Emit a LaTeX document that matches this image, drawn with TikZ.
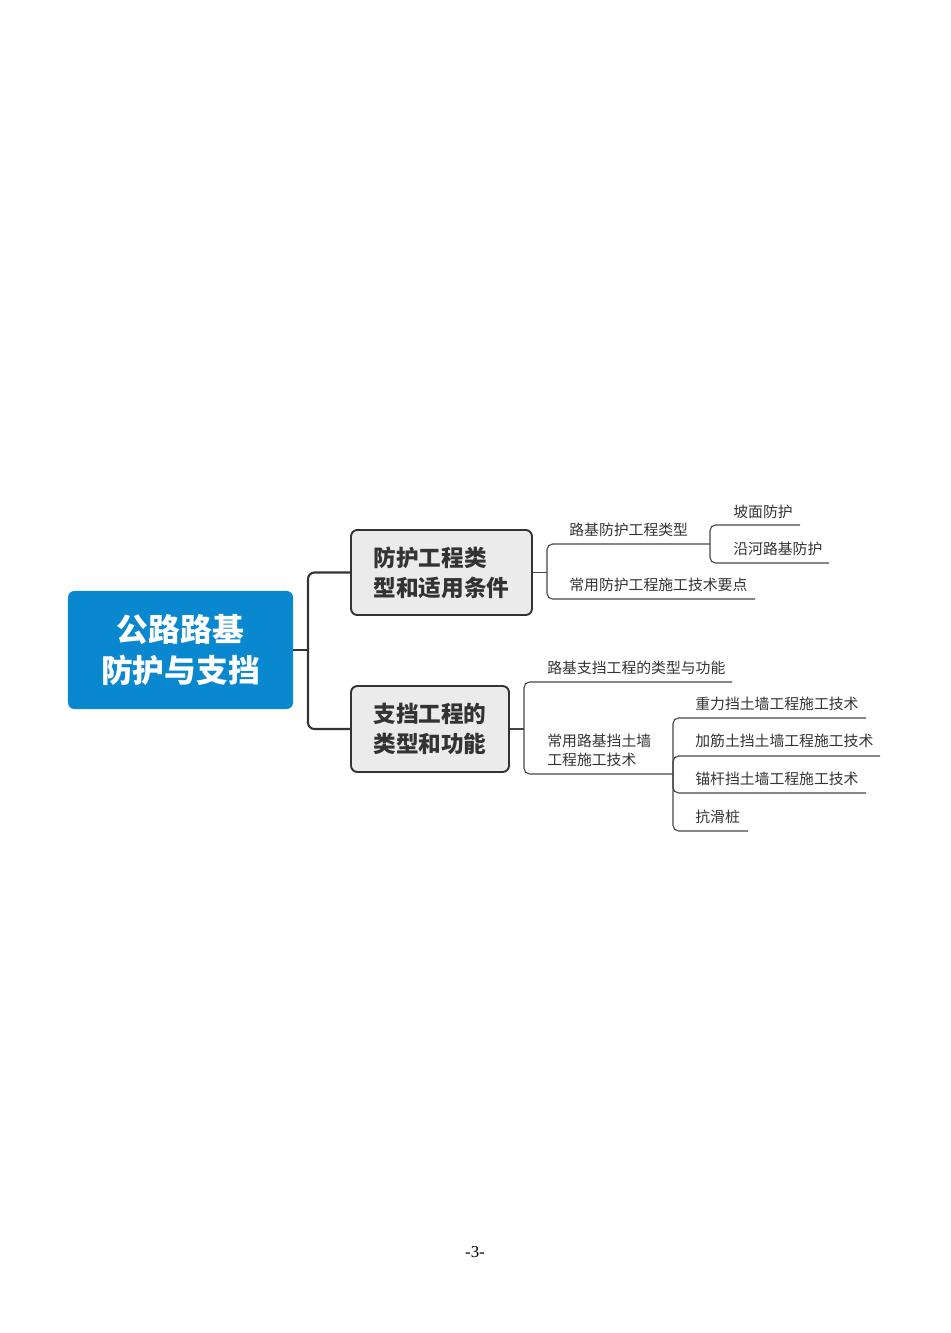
\documentclass[tikz,border=0pt]{standalone}
\usepackage{fontspec}
\setmainfont{Liberation Serif}
\newfontfamily\cjk{Noto Sans CJK SC}
\definecolor{rootblue}{RGB}{9,136,207}
\definecolor{topicgray}{RGB}{235,235,235}
\definecolor{linegray}{RGB}{51,51,51}
\definecolor{twiggray}{RGB}{70,70,70}
\begin{document}
\begin{tikzpicture}[x=0.6266pt,y=-0.6266pt,
root/.style={fill=rootblue,text=white,rounded corners=4pt,minimum width=141pt,minimum height=74pt,align=center,font=\cjk\bfseries\fontsize{19.9}{25.7}\selectfont},
topic/.style={draw=linegray,line width=1.2pt,fill=topicgray,rounded corners=4pt,align=left,text=linegray,font=\cjk\bfseries\fontsize{14.2}{18.8}\selectfont},
leaf/.style={anchor=west,align=left,inner sep=0pt,yshift=-0.7pt,text=linegray,font=\cjk\fontsize{9.3}{11.9}\selectfont},
trunk/.style={draw=linegray,line width=1.3pt,rounded corners=4pt},
twig/.style={draw=twiggray,line width=0.7pt,rounded corners=3.5pt}]
\useasboundingbox(0,0)rectangle(950,1333);
\node[root](root)at(180.5,650){公路路基\\防护与支挡};
\node[topic,minimum width=113.4pt,minimum height=53.3pt](fh)at(441.5,572.5){防护工程类\\型和适用条件};
\node[topic,minimum width=99pt,minimum height=53.9pt](zd)at(430,729){支挡工程的\\类型和功能};
\coordinate(k0)at(308,650);
\draw[trunk](root.east)--(k0);
\draw[trunk](k0)|-(fh.west);
\draw[trunk](k0)|-(zd.west);
\coordinate(k1)at(547,572.5);
\draw[twig](fh.east)--(k1);
\node[leaf](lx)at(569,529){路基防护工程类型};
\coordinate(j1)at(710,544);
\draw[twig](k1)|-(j1);
\node[leaf](pm)at(733,511){坡面防护};
\coordinate(pm-e)at(800,525);
\draw[twig](j1)|-(pm-e);
\node[leaf](yh)at(733,548){沿河路基防护};
\coordinate(yh-e)at(829,563);
\draw[twig](j1)|-(yh-e);
\node[leaf](yd)at(569,584){常用防护工程施工技术要点};
\coordinate(yd-e)at(755,599);
\draw[twig](k1)|-(yd-e);
\coordinate(k2)at(524,729);
\draw[twig](zd.east)--(k2);
\node[leaf](lz)at(547,667){路基支挡工程的类型与功能};
\coordinate(lz-e)at(732,682);
\draw[twig](k2)|-(lz-e);
\node[leaf](dq)at(547,749.5){常用路基挡土墙\\工程施工技术};
\coordinate(j2)at(673,774);
\draw[twig](k2)|-(j2);
\node[leaf](zl)at(695,703){重力挡土墙工程施工技术};
\coordinate(zl-e)at(866,718);
\draw[twig](j2)|-(zl-e);
\node[leaf](jj)at(695,740){加筋土挡土墙工程施工技术};
\coordinate(jj-e)at(880,756);
\draw[twig](j2)|-(jj-e);
\node[leaf](mg)at(695,778){锚杆挡土墙工程施工技术};
\coordinate(mg-e)at(866,793);
\draw[twig](j2)|-(mg-e);
\node[leaf](kh)at(695,816){抗滑桩};
\coordinate(kh-e)at(748,831);
\draw[twig](j2)|-(kh-e);
\node(pg)at(475,1252){\fontsize{10.5}{12}\selectfont-3-};
\end{tikzpicture}
\end{document}
